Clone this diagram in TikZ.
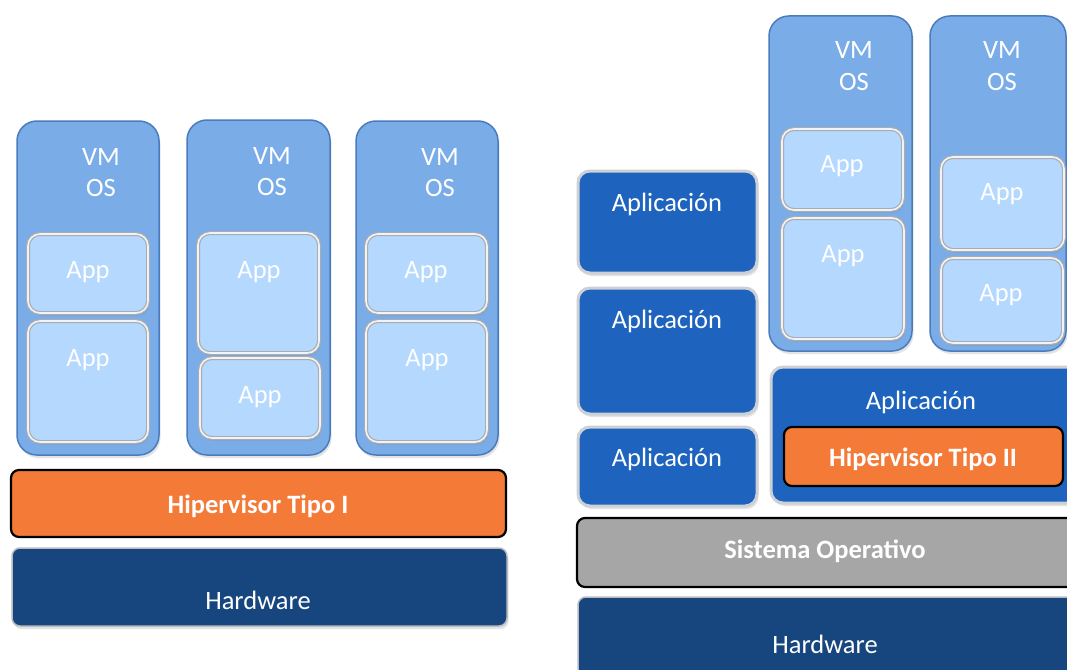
\documentclass[tikz,border=0pt]{standalone}
\usepackage{fontspec}
\setmainfont{Carlito}
\usetikzlibrary{fit,shadows}
\definecolor{vmfill}{HTML}{7AADE8}
\definecolor{vmline}{HTML}{4A7CBD}
\definecolor{appfill}{HTML}{B4D8FE}
\definecolor{appline}{HTML}{A9ADB3}
\definecolor{aplfill}{HTML}{1E64BF}
\definecolor{aplline}{HTML}{CDD0D4}
\definecolor{hwfill}{HTML}{17467E}
\definecolor{hwline}{HTML}{B8BCC2}
\definecolor{hipfill}{HTML}{F47A38}
\definecolor{sofill}{HTML}{A6A6A6}
\begin{document}
\begin{tikzpicture}[x=1pt,y=-1pt,
  shad/.style={drop shadow={opacity=0.22,shadow xshift=1.5pt,shadow yshift=-3pt}},
  vmbox/.style={shad,draw=vmline,line width=1.5pt,fill=vmfill,rounded corners=20pt,inner sep=0pt},
  appbox/.style={shad,draw=appline,line width=1.2pt,double=white!85!appline,double distance=1.6pt,fill=appfill,rounded corners=12pt,inner sep=0pt},
  aplbox/.style={shad,draw=aplline,line width=3pt,fill=aplfill,rounded corners=12pt,inner sep=0pt},
  hwbox/.style={shad,draw=hwline,line width=1.5pt,fill=hwfill,rounded corners=8pt,inner sep=0pt},
  hipbox/.style={draw=black,line width=2.2pt,fill=hipfill,rounded corners=8pt,inner sep=0pt},
  sobox/.style={draw=black,line width=2.2pt,fill=sofill,rounded corners=8pt,inner sep=0pt},
  txt/.style={text=white,font=\fontsize{26.5}{30}\selectfont,inner sep=0pt,text height=17pt,text depth=0pt,anchor=center},
  btxt/.style={txt,font=\fontsize{26.5}{30}\selectfont\bfseries}]
\clip (0,0) rectangle (1067,669);
\fill[white] (0,0) rectangle (1067,669);

% ---------- left: Tipo I ----------
\node[vmbox,fit={(17,121)(159,455)}] (vm1) {};
\node[vmbox,fit={(187,120)(330,455)}] (vm2) {};
\node[vmbox,fit={(356,121)(498,455)}] (vm3) {};
\node[txt] (vm1a) at (101,157) {VM};
\node[txt] (vm1b) at (101,188) {OS};
\node[txt] (vm2a) at (272,156) {VM};
\node[txt] (vm2b) at (272,187) {OS};
\node[txt] (vm3a) at (440,157) {VM};
\node[txt] (vm3b) at (440,188) {OS};

\node[appbox,fit={(28,234)(148,313)}] (a11) {};
\node[appbox,fit={(28,321)(148,442)}] (a12) {};
\node[appbox,fit={(198,233)(319,353)}] (a21) {};
\node[appbox,fit={(200,358)(320,438)}] (a22) {};
\node[appbox,fit={(366,234)(487,313)}] (a31) {};
\node[appbox,fit={(366,321)(487,442)}] (a32) {};
\node[txt] (a11t) at (88,270) {App};
\node[txt] (a12t) at (88,358) {App};
\node[txt] (a21t) at (259,270) {App};
\node[txt] (a22t) at (260,395) {App};
\node[txt] (a31t) at (426,270) {App};
\node[txt] (a32t) at (427,358) {App};

\node[hipbox,fit={(11,470)(506,537)}] (hip1) {};
\node[btxt] (hip1t) at (258,505) {Hipervisor Tipo I};
\node[hwbox,fit={(12,548)(507,626)}] (hw1) {};
\node[txt] (hw1t) at (258,601) {Hardware};

% ---------- right: Tipo II ----------
\node[vmbox,fit={(769,16)(912,351)}] (vm4) {};
\node[vmbox,fit={(930,16)(1066,351)}] (vm5) {};
\node[txt] (vm4a) at (854,50) {VM};
\node[txt] (vm4b) at (854,82) {OS};
\node[txt] (vm5a) at (1002,50) {VM};
\node[txt] (vm5b) at (1002,82) {OS};

\node[appbox,fit={(782,129)(903,210)}] (a41) {};
\node[appbox,fit={(782,218)(904,339)}] (a42) {};
\node[appbox,fit={(941,157)(1064,250)}] (a51) {};
\node[appbox,fit={(941,258)(1063,343)}] (a52) {};
\node[txt] (a41t) at (842,164) {App};
\node[txt] (a42t) at (843,254) {App};
\node[txt] (a51t) at (1002,192) {App};
\node[txt] (a52t) at (1001,293) {App};

\node[aplbox,fit={(578,171)(757,273)}] (ap1) {};
\node[aplbox,fit={(578,288)(757,414)}] (ap2) {};
\node[aplbox,fit={(578,427)(757,506)}] (ap3) {};
\node[txt] (ap1t) at (667,203) {Aplicación};
\node[txt] (ap2t) at (667,320) {Aplicación};
\node[txt] (ap3t) at (667,458) {Aplicación};

\node[aplbox,fit={(771,367)(1085,503)}] (ap4) {};
\node[txt] (ap4t) at (921,401) {Aplicación};
\node[hipbox,fit={(784,427)(1063,486)}] (hip2) {};
\node[btxt] (hip2t) at (923,458) {Hipervisor Tipo II};

\node[sobox,fit={(577,518)(1085,587)}] (so) {};
\node[btxt] (sot) at (825,550) {Sistema Operativo};
\node[hwbox,fit={(578,597)(1085,685)}] (hw2) {};
\node[txt] (hw2t) at (825,645) {Hardware};
\end{tikzpicture}
\end{document}
